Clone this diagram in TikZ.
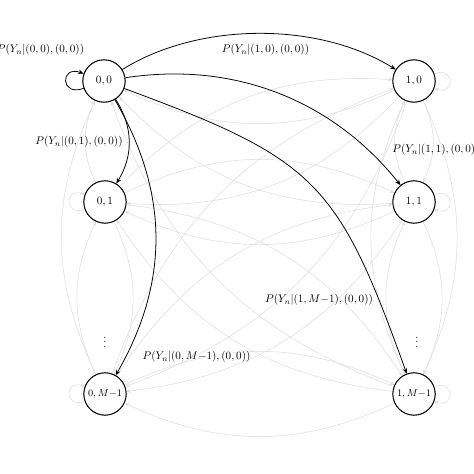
\documentclass[tikz,border=0pt]{standalone}
\usetikzlibrary{arrows.meta}
\begin{document}
\begin{tikzpicture}[x=0.9pt,y=-0.9pt,
  state/.style={circle,draw,thick,minimum size=38pt,inner sep=0pt,fill=white},
  gedge/.style={draw=black!13,line width=0.5pt,-{Stealth[length=4pt,width=3.5pt]},bend left=25},
  gloop/.style={draw=black!13,line width=0.5pt,-{Stealth[length=4pt,width=3.5pt]},loop,min distance=7mm},
  bedge/.style={draw=black,line width=0.7pt,-{Stealth[length=5pt,width=4pt]}},
  lab/.style={inner sep=0pt}]
\useasboundingbox (0,0) rectangle (474,474);
\node[state] (s00) at (104,81) {$0,0$};
\node[state] (s10) at (414,81) {$1,0$};
\node[state] (s01) at (105,202) {$0,1$};
\node[state] (s11) at (414,202) {$1,1$};
\node[state] (s0M) at (105,394) {\small$0,M{-}1$};
\node[state] (s1M) at (414,394) {\small$1,M{-}1$};
% gray edges
\foreach \u in {s10,s01,s11,s0M,s1M}{
  \foreach \v in {s00,s10,s01,s11,s0M,s1M}{
    \ifx\u\v\else \path (\u) edge[gedge] (\v);\fi
  }}
\path (s01) edge[gloop,in=160,out=200] (s01);
\path (s0M) edge[gloop,in=160,out=200] (s0M);
\path (s10) edge[gloop,in=-20,out=20] (s10);
\path (s11) edge[gloop,in=-20,out=20] (s11);
\path (s1M) edge[gloop,in=-20,out=20] (s1M);
% redraw nodes on top
\node[state] at (s00) {$0,0$};
\node[state] at (s10) {$1,0$};
\node[state] at (s01) {$0,1$};
\node[state] at (s11) {$1,1$};
\node[state] at (s0M) {\small$0,M{-}1$};
\node[state] at (s1M) {\small$1,M{-}1$};
\node[inner sep=1pt] (d0) at (105,339) {$\vdots$};
\node[inner sep=1pt] (d1) at (417,339) {$\vdots$};
% black edges
\path (s00) edge[bedge,loop,in=160,out=200,min distance=8mm] (s00);
\path (s00) edge[bedge,bend left=32,looseness=0.85] (s10);
\path (s00) edge[bedge,bend left=30,looseness=0.95] (s11);
\path (s00) edge[bedge,bend left=25,looseness=1.3] (s1M);
\path (s00) edge[bedge,bend left=32] (s01);
\path (s00) edge[bedge,bend left=30] (s0M);
% labels
\node[lab] (l00) at (40.5,50) {$P(Y_n|(0,0),(0,0))$};
\node[lab] (l10) at (265.5,50) {$P(Y_n|(1,0),(0,0))$};
\node[lab] (l01) at (79,142) {$P(Y_n|(0,1),(0,0))$};
\node[lab] (l11) at (436,150) {$P(Y_n|(1,1),(0,0))$};
\node[lab] (l1M) at (319,300) {$P(Y_n|(1,M{-}1),(0,0))$};
\node[lab] (l0M) at (196.5,357) {$P(Y_n|(0,M{-}1),(0,0))$};
\end{tikzpicture}
\end{document}
